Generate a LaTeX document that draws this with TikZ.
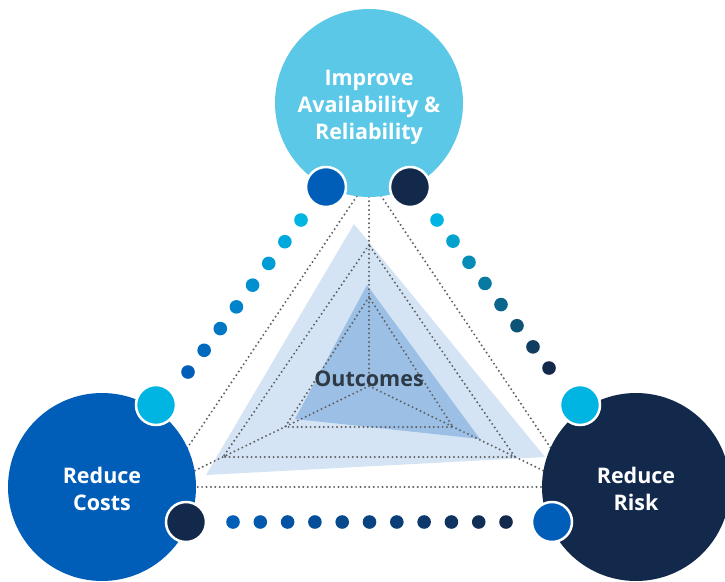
\documentclass[tikz,border=0pt]{standalone}
\usepackage{fontspec}
\setmainfont{Open Sans}
\usetikzlibrary{calc}
\definecolor{topc}{HTML}{5BC8E8}
\definecolor{bluec}{HTML}{005EB8}
\definecolor{navyc}{HTML}{13294B}
\definecolor{cyanc}{HTML}{00B5E2}
\definecolor{lightfill}{HTML}{D5E4F4}
\definecolor{darkfill}{HTML}{9CC0E5}
\definecolor{dotgray}{HTML}{5F6064}
\definecolor{textgray}{HTML}{2E3A45}
\begin{document}
\begin{tikzpicture}[x=1pt,y=-1pt,
  bigcirc/.style={circle,minimum size=188pt,inner sep=0pt},
  smallcirc/.style={circle,minimum size=40pt,inner sep=0pt,draw=white,line width=2.5pt},
  maintext/.style={text=white,font=\fontsize{21.5}{26.7}\selectfont\bfseries,align=center,inner sep=0pt},
  radar/.style={draw=dotgray,line width=2.2pt,line cap=round,dash pattern=on 0pt off 4.4pt},
  colordot/.style={circle,minimum size=13.6pt,inner sep=0pt},
]
\clip (0,0) rectangle (725,581);
\fill[white] (0,0) rectangle (725,581);

% data polygons
\fill[lightfill] (354,224) -- (206,475) -- (545,457) -- cycle;
\fill[darkfill] (367,285) -- (295,419) -- (480,439) -- cycle;

% radar grid
\coordinate (O) at (369,386);
\coordinate (A1) at (369,178);
\coordinate (B1) at (161,487);
\coordinate (C1) at (577,487);
\coordinate (A2) at (369,245);
\coordinate (B2) at (223,457);
\coordinate (C2) at (515,457);
\coordinate (A3) at (369,297);
\coordinate (B3) at (285,427);
\coordinate (C3) at (453,427);
\draw[radar] (A1) -- (B1) -- (C1) -- cycle;
\draw[radar] (A2) -- (B2) -- (C2) -- cycle;
\draw[radar] (A3) -- (B3) -- (C3) -- cycle;
\draw[radar] (O) -- (A1);
\draw[radar] (O) -- (B1);
\draw[radar] (O) -- (C1);

% big circles
\node[bigcirc,fill=topc] (top) at (369,103) {};
\node[bigcirc,fill=bluec] (left) at (102,487) {};
\node[bigcirc,fill=navyc] (right) at (636,487) {};

% small circles
\node[smallcirc,fill=bluec] (tl) at (326,187) {};
\node[smallcirc,fill=navyc] (tr) at (410,187) {};
\node[smallcirc,fill=cyanc] (lc) at (156,405) {};
\node[smallcirc,fill=navyc] (ln) at (186,522) {};
\node[smallcirc,fill=cyanc] (rc) at (580,405) {};
\node[smallcirc,fill=bluec] (rb) at (552,522) {};

% coloured dotted links
\coordinate (L0) at (188,372);
\coordinate (L1) at (301,220);
\coordinate (R0) at (437,220);
\coordinate (R1) at (549,368);
\coordinate (D0) at (233,522);
\coordinate (D1) at (506,522);
\foreach \i in {0,...,7} {
  \pgfmathsetmacro\t{\i/7}
  \pgfmathtruncatemacro\pc{round(100*\i/7)}
  \node[colordot,fill=cyanc!\pc!bluec] (ld\i) at ($(L0)!\t!(L1)$) {};
  \node[colordot,fill=navyc!\pc!cyanc] (rd\i) at ($(R0)!\t!(R1)$) {};
}
\foreach \i in {0,...,10} {
  \pgfmathsetmacro\t{\i/10}
  \pgfmathtruncatemacro\pc{round(10*\i)}
  \node[colordot,fill=navyc!\pc!bluec] (bd\i) at ($(D0)!\t!(D1)$) {};
}

% texts
\node[maintext] (tt) at (369,107.5) {Improve\\Availability \&\\Reliability};
\node[maintext] (lt) at (102,489) {Reduce\\Costs};
\node[maintext] (rt) at (636,489) {Reduce\\Risk};
\node[text=textgray,font=\fontsize{21.5}{26}\selectfont\bfseries,anchor=base,inner sep=0pt] (out) at (369,386) {Outcomes};
\end{tikzpicture}
\end{document}
